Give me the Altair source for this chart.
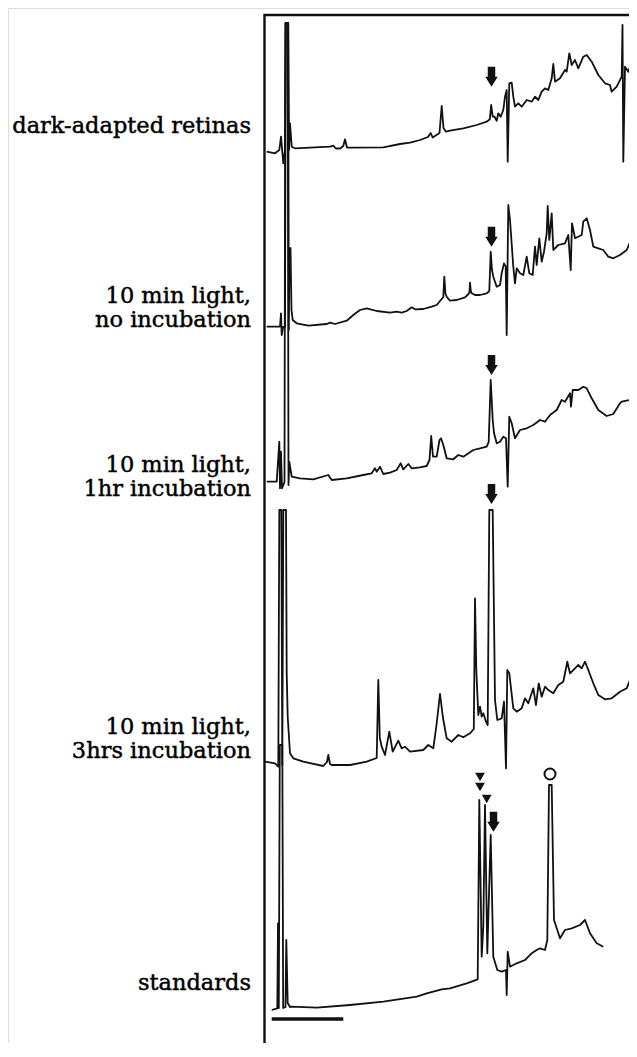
import altair as alt
import pandas as pd

# Chromatogram traces: (retention position, pen position)
dark_adapted = [(266.7,151.7),(275,153.3),(279.3,150),(281,136.7),(283.3,163.3),(285,150),(285.8,23),(288.2,23),(289,150),(290,123.3),(291.7,146.7),(295,148.3),(330,146.7),(333.3,145.7),(336,148.5),(340,148.5),(343.3,146),(345,139.3),(347,147.5),(350,147.7),(383.3,147.3),(400,144),(410,142.7),(420,140),(428,137),(430.7,133),(432.7,137.5),(439.5,133),(441.7,106),(443.5,128),(446,131.7),(450,130.7),(463.3,128.3),(476.7,125),(486.7,121.7),(489.8,119.3),(491.2,105),(492.7,116.7),(494.5,116.7),(496.7,120.7),(498.3,113.3),(500.7,116.7),(503.3,110),(505,96.7),(506.7,90),(507.7,161.7),(509.3,83.3),(511.7,82.7),(513.3,96.7),(515,106.7),(518.3,103.3),(521.7,106.7),(526.7,100),(531.7,101.7),(535,96.7),(538.3,100),(541.7,91.7),(545,88.3),(548.3,90),(551.7,78.3),(553.3,64),(555,81.7),(560,78.3),(565,70),(566.7,71.7),(569.3,53.3),(571.7,65),(575,60),(578.3,68.3),(583.3,56.7),(586.7,55),(591.7,61.7),(598.3,75),(605,83.3),(610,85),(611.7,91.7),(616.7,86.7),(621.7,76.7),(622.5,25),(623.3,161.7),(625,66.7),(628.3,71.7),(631.7,61.7),(636.7,68.3)]

light_no_incubation = [(266.7,326.7),(280,326.7),(281,313.3),(281.7,335),(283,327),(285,327),(285.8,23),(288.2,23),(288.8,330),(289.5,250),(290.5,248),(291.5,310),(292.7,320),(296.7,323.3),(308.3,325.7),(326.7,324),(330,322.7),(335,324),(346.7,320.7),(353.3,315),(360,310),(366.7,308.3),(376.7,311),(390,312.7),(396.7,311.7),(401.7,312.7),(406.7,311),(411.7,307.3),(415,309.3),(423.3,309),(431.7,306.7),(436.7,305),(441.7,299),(443.3,297),(444.3,276.7),(445.5,294),(446.7,296.7),(450,300.7),(456.7,300),(465,297.3),(468.5,294),(469.5,292),(470,282.7),(470.8,291),(471.7,293.3),(475,295),(480,295),(486.7,293.3),(489.3,291),(490.7,251.7),(492,270),(493.3,276.7),(496.7,286.7),(500,285),(501.7,273.3),(504,263.3),(505.7,266.7),(506.7,335),(508.3,205),(510,220),(513.3,266.7),(515,283.3),(516.7,268.3),(520,273.3),(523.3,275),(526.7,256.7),(529.3,273.3),(532.7,275),(535,246.7),(536.7,265),(539.3,238.3),(541.7,261.7),(544,251.7),(546.7,233.3),(547.7,206),(549.3,240),(551.7,213.3),(553.3,250),(558.3,245),(565,243.3),(568.3,235),(570.7,270),(572,223.3),(575,238.3),(581.7,235),(583.3,221.7),(586.7,218.3),(590,230),(593.3,246.7),(598.3,248.3),(603.3,250),(608.3,256.7),(613.3,258.3),(620,255),(626.7,250),(631,240),(632.7,181.7),(634,240),(636.7,250)]

light_1hr = [(266.7,481.7),(276.7,481.7),(279.3,441.7),(280,488.3),(281,451.7),(282,488.3),(284.5,482),(285.3,23),(287.7,23),(288.5,485),(289.3,461.7),(291.7,476.7),(300,478.3),(313.3,479.3),(328.3,475),(331.7,480),(346.7,478.3),(363.3,475),(371.7,473.3),(375,468.3),(376.7,471.7),(380,466.7),(383.3,474),(390,472.7),(396.7,470),(400.7,463.3),(403.3,469.3),(408.3,464),(411.7,468.3),(420,467.3),(426.7,466),(429.5,460),(431.2,436),(433,456.7),(436.7,456.7),(439.5,440),(441,438.3),(443.3,445),(446.7,458.3),(453.3,459.3),(458.3,455),(463.3,456.7),(473.3,450),(480,448.3),(486.7,446.7),(488.7,442),(490.7,380),(492.7,420),(494,433),(496.7,443.3),(500,441.7),(503.3,436.7),(506,438.3),(507.7,486.7),(509.3,416.7),(511.7,423.3),(515,438.3),(520,430),(526.7,428.3),(533.3,425),(540,420),(545,421.7),(550,415),(556.7,410),(561.7,400),(565,401.7),(570,393.3),(571,406.7),(572.7,390),(578.3,390),(583.3,386.7),(586.7,388.3),(591.7,398.3),(598.3,410),(606.7,416),(613.3,414),(620,403.3),(621.7,401.7),(630,400),(632.3,355),(634,385),(636.7,395)]

light_3hrs = [(265,761.7),(275,763.3),(278.3,766.7),(279.3,510),(281.3,510),(282.3,765),(283.3,510),(286,510),(286.7,673.3),(287.7,716.7),(290,753.3),(293.3,758.3),(303.3,761.7),(323.3,766),(327,762),(328.3,755),(330,764),(331.7,765),(350,765),(366.7,761.7),(376.7,758),(378.3,680),(379.8,738),(381.7,746.7),(385,755),(389.3,731.7),(392.7,751.7),(398.3,740.7),(401.7,748.3),(405,746.7),(410,751.7),(423.3,750),(428.3,745),(433.3,748.3),(436.5,725),(440,694),(443,718),(446.7,738.3),(451.7,741.7),(458.3,735),(463.3,737.3),(470,733.3),(473.8,729),(475,598.3),(476.3,670),(478.3,715),(480,706.7),(481.7,716.7),(483.3,713.3),(486,721.7),(487.7,725),(489.3,510),(492.7,510),(495,700),(497.3,720),(501.7,718.3),(504,701.7),(506,768.3),(507.3,670),(509.3,673.3),(513.3,708.3),(516.7,711.7),(521.7,708.3),(525,698.3),(528.3,703.3),(533.3,688.3),(536,705),(538.7,683.3),(541.7,696.7),(545,686.7),(548.3,690),(553.3,693.3),(558.3,685),(563.3,681.7),(567.3,661.7),(570,673.3),(575,668.3),(578.3,665),(581.7,668.3),(585,661.7),(588.3,670),(593.3,683.3),(598.3,695),(605,699.3),(611.7,698.3),(620,691.7),(626.7,688.3),(630,680),(631.7,651.7),(634,680),(636.7,688.3)]

standards = [(271.7,1010),(277.3,1008.3),(278,923.3),(278.8,1008),(279.8,745),(282.3,745),(283.2,1008),(285.5,1007),(286.3,940),(287.7,1003),(290,1007),(291.7,1006.7),(316.7,1007.7),(350,1005),(383.3,1001.7),(416.7,996.7),(426.7,993.3),(441.7,989.3),(450,988.3),(466.7,983.3),(477.7,979.3),(479.3,800),(481.7,956.7),(483.3,926.7),(485,805),(487.3,953.3),(490.7,835),(493.3,956.7),(497.3,970),(501.7,971.7),(506,970),(506.7,995),(507.7,951.7),(510,966.7),(516.7,963.3),(525,960),(531.7,953.3),(536.7,950),(540,948.3),(545,950),(547.3,940),(549,785),(551.7,785),(554,920),(560,938.3),(565,930),(571.7,928.3),(580,925),(585,920),(590,933.3),(596.7,943.3),(603.3,946.7)]

traces = {
    "dark-adapted retinas": dark_adapted,
    "10 min light, no incubation": light_no_incubation,
    "10 min light, 1hr incubation": light_1hr,
    "10 min light, 3hrs incubation": light_3hrs,
    "standards": standards,
}

label_lines = ["dark-adapted retinas", "10 min light,", "no incubation", "10 min light,",
               "1hr incubation", "10 min light,", "3hrs incubation", "standards"]
label_pos = [133, 303, 327, 472, 496, 734, 758, 990]

# Marker annotations
arrow_x = [491.5, 491.5, 491.5, 491.5, 493.5]
arrow_y = [76.7, 236.7, 365, 494, 821.7]
tri_x = [480, 480, 486.7]
tri_y = [777, 787, 799]
circle_x = [550]
circle_y = [774]
scalebar_x = [271.7, 343.3]
scalebar_y = [1019, 1019]

rows = []
for name, pts in traces.items():
    for i, (x, y) in enumerate(pts):
        rows.append({"trace": name, "order": i, "x": x, "y": y})
df = pd.DataFrame(rows)

X = alt.Scale(domain=[8, 629], nice=False, zero=False)
Y = alt.Scale(domain=[8, 1043], nice=False, zero=False, reverse=True)

base_x = lambda f: alt.X(f, type="quantitative", scale=X, axis=None)
base_y = lambda f: alt.Y(f, type="quantitative", scale=Y, axis=None)

lines = alt.Chart(df).mark_line(color="#111111", strokeWidth=1.8, strokeJoin="round").encode(
    x=base_x("x"), y=base_y("y"), detail="trace:N", order="order:Q")

frame_df = pd.DataFrame({"x": [264.5, 264.5, 640], "y": [1060, 15, 15], "o": [0, 1, 2]})
frame = alt.Chart(frame_df).mark_line(color="#111111", strokeWidth=2.4, strokeJoin="miter").encode(
    x=base_x("x"), y=base_y("y"), order="o:Q")

labels_df = pd.DataFrame({"t": label_lines, "y": label_pos, "x": [251] * len(label_lines)})
labels = alt.Chart(labels_df).mark_text(align="right", baseline="alphabetic", font="DejaVu Serif",
                                        fontSize=22.5, color="#000000", stroke="#000000",
                                        strokeWidth=0.45).encode(
    x=base_x("x"), y=base_y("y"), text="t:N")

arrow_path = "M-0.6,-1.6 L0.6,-1.6 L0.6,0 L1,0 L0,1.6 L-1,0 L-0.6,0 Z"
arrows = alt.Chart(pd.DataFrame({"x": arrow_x, "y": arrow_y})).mark_point(
    shape=arrow_path, filled=True, size=156, color="#111111", opacity=1).encode(
    x=base_x("x"), y=base_y("y"))

tris = alt.Chart(pd.DataFrame({"x": tri_x, "y": tri_y})).mark_point(
    shape="triangle-down", filled=True, size=95, color="#111111", opacity=1).encode(
    x=base_x("x"), y=base_y("y"))

circ = alt.Chart(pd.DataFrame({"x": circle_x, "y": circle_y})).mark_point(
    shape="circle", filled=False, size=121, color="#111111", strokeWidth=2, opacity=1).encode(
    x=base_x("x"), y=base_y("y"))

bar = alt.Chart(pd.DataFrame({"x": scalebar_x, "y": scalebar_y})).mark_line(
    color="#111111", strokeWidth=3.5).encode(x=base_x("x"), y=base_y("y"))

chart = alt.layer(frame, lines, labels, arrows, tris, circ, bar).properties(
    width=621, height=1035, padding=0, autosize=alt.AutoSizeParams(type="none")
).configure_view(strokeWidth=0, strokeOpacity=0, stroke="transparent").configure(background="white")

chart.save("out.html", embed_options={"renderer": "svg", "actions": False})
